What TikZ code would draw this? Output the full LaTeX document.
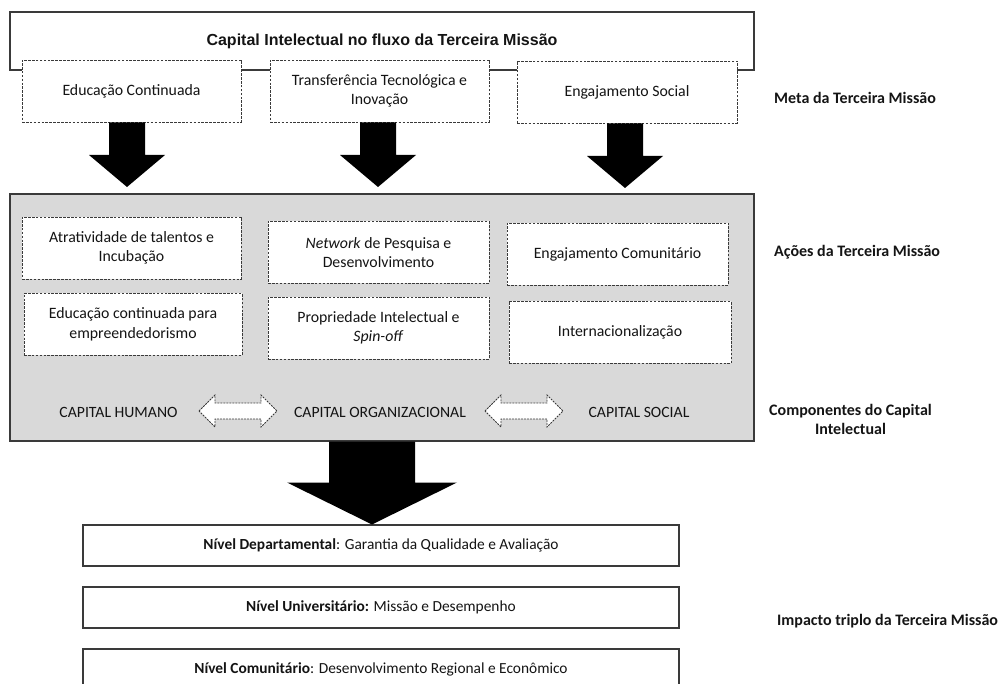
\documentclass[tikz,border=0pt]{standalone}
\usepackage{fontspec}
\setmainfont{Carlito}
\newfontfamily\arialfont{Liberation Sans}
\usetikzlibrary{calc}
\definecolor{txt}{HTML}{141414}
\definecolor{edge}{HTML}{3A3A3A}
\definecolor{panel}{HTML}{D9D9D9}
\begin{document}
\begin{tikzpicture}[x=1pt,y=-1pt,
  every node/.style={text=txt},
  dbox/.style={draw=edge, line width=0.9pt, dash pattern=on 2.6pt off 1.3pt, fill=white,
    minimum width=219pt, minimum height=62pt, inner sep=2pt, align=center,
    font=\fontsize{15.8}{19.5}\selectfont},
  sbox/.style={draw=edge, line width=1.4pt, fill=white, minimum width=596pt,
    minimum height=41pt, font=\fontsize{15.4}{18}\selectfont},
  lab/.style={anchor=west, align=center, inner sep=0pt, font=\fontsize{16}{19}\selectfont\bfseries},
  captxt/.style={font=\fontsize{15.7}{19}\selectfont},
  blk/.style={fill=black},
  dbl/.style={draw=edge, line width=0.8pt, dash pattern=on 2pt off 1pt, fill=white, line join=miter}
]
\useasboundingbox (0,0) rectangle (999,684);
\clip (0,0) rectangle (999,684);

% title box
\node[draw=edge, line width=1.5pt, minimum width=744pt, minimum height=58pt,
  font=\arialfont\bfseries\fontsize{16}{19}\selectfont] (title) at (382,41)
  {Capital Intelectual no fluxo da Terceira Missão};

% goals
\node[dbox] (m1) at (131.5,91) {Educação Continuada};
\node[dbox] (m2) at (379.5,91) {Transferência Tecnológica e\\Inovação};
\node[dbox, minimum width=220pt] (m3) at (627,92) {Engajamento Social};

% block arrows
\coordinate (t1) at (127,187);
\coordinate (t2) at (378,187);
\coordinate (t3) at (625,188);
\foreach \s/\t in {m1/t1,m2/t2,m3/t3}{
  \fill[blk] ($(\t|-\s.south)+(-18,0)$) -- ($(\t)+(-18,-32)$) -- ($(\t)+(-38,-32)$) -- (\t)
    -- ($(\t)+(38,-32)$) -- ($(\t)+(18,-32)$) -- ($(\t|-\s.south)+(18,0)$) -- cycle;
}

% actions panel
\node[draw=edge, line width=1.5pt, fill=panel, minimum width=744pt, minimum height=247pt] (acoes) at (382,317.5) {};

\node[dbox] (a1) at (131.5,248) {Atratividade de talentos e\\Incubação};
\node[dbox, minimum width=221pt] (a2) at (378.5,252.5) {\textit{Network} de Pesquisa e\\Desenvolvimento};
\node[dbox, minimum width=221pt] (a3) at (617.5,254) {Engajamento Comunitário};
\node[dbox, minimum width=218pt] (b1) at (133,324.5) {Educação continuada para\\empreendedorismo};
\node[dbox, minimum width=221pt] (b2) at (378.5,328) {Propriedade Intelectual e\\\textit{Spin-off}};
\node[dbox, minimum width=222pt] (b3) at (620,332.5) {Internacionalização};

% capital components
\node[captxt] (ch) at (118.5,412) {CAPITAL HUMANO};
\node[captxt] (co) at (380,412) {CAPITAL ORGANIZACIONAL};
\node[captxt] (cs) at (639,412) {CAPITAL SOCIAL};

\coordinate (d1l) at (199,411);
\coordinate (d1r) at (277,411);
\coordinate (d2l) at (485,411);
\coordinate (d2r) at (563,411);
\foreach \l/\r in {d1l/d1r,d2l/d2r}{
  \draw[dbl] (\l) -- ($(\l)+(16,-16)$) -- ($(\l)+(16,-8)$) -- ($(\r)+(-16,-8)$) -- ($(\r)+(-16,-16)$)
    -- (\r) -- ($(\r)+(-16,16)$) -- ($(\r)+(-16,8)$) -- ($(\l)+(16,8)$) -- ($(\l)+(16,16)$) -- cycle;
}

% impact boxes
\node[sbox] (n1) at (381,545.5) {\textbf{Nível Departamental}: Garantia da Qualidade e Avaliação};
\node[sbox] (n2) at (381,607.5) {\textbf{Nível Universitário:} Missão e Desempenho};
\node[sbox] (n3) at (381,669.5) {\textbf{Nível Comunitário}: Desenvolvimento Regional e Econômico};

% big arrow
\coordinate (tb) at (372,524.5);
\fill[blk] ($(tb|-acoes.south)+(-43,0)$) -- ($(tb)+(-43,-42)$) -- ($(tb)+(-85,-42)$) -- (tb)
  -- ($(tb)+(85,-42)$) -- ($(tb)+(43,-42)$) -- ($(tb|-acoes.south)+(43,0)$) -- cycle;

% right labels
\node[lab] (l1) at (774,98) {Meta da Terceira Missão};
\node[lab] (l2) at (774,252) {Ações da Terceira Missão};
\node[lab] (l3) at (769,419.5) {Componentes do Capital\\Intelectual};
\node[lab] (l4) at (777,621) {Impacto triplo da Terceira Missão};
\end{tikzpicture}
\end{document}
